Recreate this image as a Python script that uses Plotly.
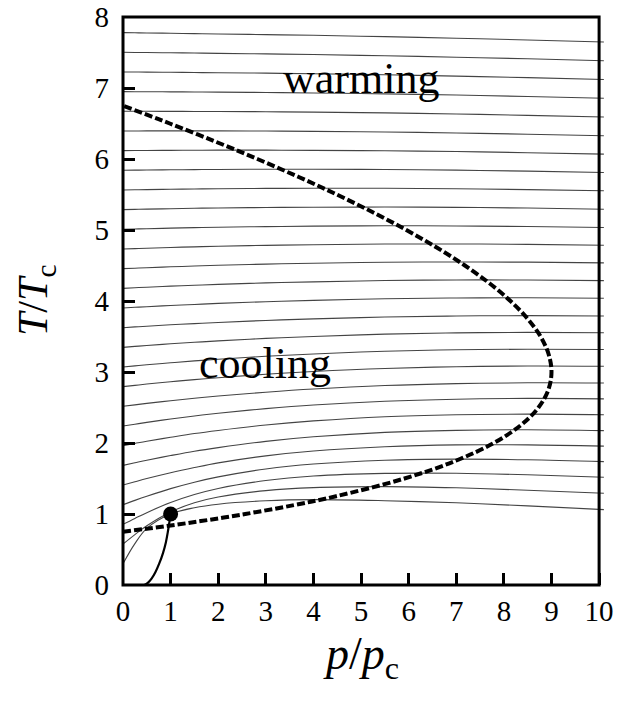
import plotly.graph_objects as go

# ---------------------------------------------------------
# data
# ---------------------------------------------------------
# p/pc positions shared by every isenthalp
p_grid = [0, 0.25, 0.5, 1, 1.5, 2, 3, 4, 5.5, 7, 8.5, 10.1]

# isenthalps T/Tc at p_grid, bottom line first
isenthalp_T = [
    [0.300, 0.583, 0.798, 1.000, 1.088, 1.138, 1.186, 1.202, 1.187, 1.158, 1.114, 1.062],
    [0.577, 0.710, 0.835, 1.029, 1.158, 1.239, 1.329, 1.372, 1.386, 1.369, 1.335, 1.292],
    [0.854, 0.938, 1.019, 1.161, 1.274, 1.360, 1.471, 1.535, 1.572, 1.573, 1.552, 1.517],
    [1.131, 1.192, 1.250, 1.357, 1.448, 1.523, 1.635, 1.705, 1.758, 1.773, 1.764, 1.738],
    [1.408, 1.454, 1.499, 1.581, 1.654, 1.720, 1.819, 1.887, 1.947, 1.974, 1.973, 1.956],
    [1.685, 1.722, 1.758, 1.823, 1.884, 1.935, 2.023, 2.087, 2.150, 2.178, 2.187, 2.175],
    [1.962, 1.994, 2.025, 2.080, 2.133, 2.177, 2.254, 2.311, 2.370, 2.397, 2.407, 2.398],
    [2.240, 2.265, 2.291, 2.338, 2.381, 2.419, 2.484, 2.536, 2.589, 2.617, 2.628, 2.622],
    [2.517, 2.537, 2.558, 2.595, 2.630, 2.661, 2.715, 2.760, 2.809, 2.836, 2.848, 2.845],
    [2.794, 2.812, 2.830, 2.863, 2.893, 2.920, 2.968, 3.007, 3.050, 3.074, 3.085, 3.081],
    [3.071, 3.086, 3.102, 3.130, 3.156, 3.180, 3.221, 3.254, 3.292, 3.313, 3.321, 3.317],
    [3.347, 3.361, 3.373, 3.398, 3.418, 3.439, 3.473, 3.501, 3.533, 3.551, 3.558, 3.553],
    [3.624, 3.635, 3.645, 3.665, 3.681, 3.698, 3.726, 3.748, 3.774, 3.789, 3.794, 3.789],
    [3.901, 3.911, 3.920, 3.937, 3.951, 3.966, 3.990, 4.009, 4.031, 4.043, 4.045, 4.038],
    [4.178, 4.187, 4.194, 4.209, 4.222, 4.234, 4.255, 4.270, 4.288, 4.296, 4.296, 4.287],
    [4.456, 4.462, 4.469, 4.482, 4.492, 4.503, 4.519, 4.532, 4.545, 4.550, 4.547, 4.537],
    [4.733, 4.738, 4.743, 4.754, 4.763, 4.771, 4.784, 4.793, 4.802, 4.803, 4.798, 4.786],
    [5.010, 5.014, 5.018, 5.026, 5.033, 5.039, 5.048, 5.054, 5.059, 5.057, 5.049, 5.035],
    [5.287, 5.290, 5.294, 5.300, 5.306, 5.310, 5.317, 5.321, 5.323, 5.319, 5.309, 5.293],
    [5.564, 5.566, 5.569, 5.574, 5.578, 5.582, 5.586, 5.588, 5.587, 5.581, 5.569, 5.552],
    [5.841, 5.843, 5.845, 5.848, 5.851, 5.853, 5.856, 5.855, 5.852, 5.843, 5.829, 5.810],
    [6.118, 6.119, 6.120, 6.122, 6.123, 6.125, 6.125, 6.122, 6.116, 6.105, 6.089, 6.069],
    [6.395, 6.395, 6.396, 6.396, 6.396, 6.396, 6.394, 6.389, 6.380, 6.367, 6.349, 6.327],
    [6.672, 6.672, 6.672, 6.671, 6.670, 6.669, 6.666, 6.660, 6.649, 6.634, 6.615, 6.591],
    [6.949, 6.948, 6.948, 6.946, 6.944, 6.942, 6.937, 6.930, 6.917, 6.901, 6.880, 6.855],
    [7.226, 7.225, 7.223, 7.221, 7.218, 7.215, 7.209, 7.201, 7.186, 7.167, 7.146, 7.120],
    [7.503, 7.501, 7.499, 7.496, 7.492, 7.488, 7.480, 7.471, 7.454, 7.434, 7.411, 7.384],
    [7.780, 7.778, 7.775, 7.771, 7.766, 7.761, 7.752, 7.742, 7.723, 7.701, 7.677, 7.648],
]

# inversion curve (dashed)
inversion_T = [0.75, 0.8, 0.85, 0.9, 0.95, 1.0, 1.125, 1.25, 1.5, 1.75, 2.0, 2.25, 2.5, 2.75,
               3.0, 3.25, 3.5, 3.75, 4.0, 4.25, 4.5, 4.75, 5.0, 5.25, 5.5, 5.75, 6.0, 6.25,
               6.5, 6.6, 6.75]
inversion_p = [0.0, 0.581, 1.125, 1.636, 2.117, 2.569, 3.59, 4.476, 5.912, 6.991, 7.788, 8.354,
               8.727, 8.935, 9.0, 8.94, 8.77, 8.498, 8.138, 7.697, 7.181, 6.598, 5.952, 5.247,
               4.489, 3.679, 2.823, 1.923, 0.982, 0.593, 0.0]

# solid curve near the origin
solid_p = [0.45, 0.52, 0.60, 0.68, 0.76, 0.84, 0.90, 0.945, 0.975, 1.0]
solid_T = [0.0, 0.03, 0.09, 0.18, 0.30, 0.45, 0.60, 0.76, 0.89, 1.0]

# critical point
critical_p = [1.0]
critical_T = [1.0]

x_ticks = list(range(0, 11))
y_ticks = list(range(0, 9))

X_MAX = 10.25  # lines run a little past the right frame
FONT = '"Liberation Serif", "DejaVu Serif", "Noto Serif", "Times New Roman", serif'

# ---------------------------------------------------------
# traces
# ---------------------------------------------------------
fig = go.Figure()

for row in isenthalp_T:
    fig.add_trace(go.Scatter(
        x=p_grid, y=row, mode='lines',
        line=dict(color='#444444', width=1.1, shape='spline', smoothing=1.0),
        hoverinfo='skip'
    ))

fig.add_trace(go.Scatter(
    x=solid_p, y=solid_T, mode='lines',
    line=dict(color='black', width=2.2, shape='spline'),
    hoverinfo='skip'
))

fig.add_trace(go.Scatter(
    x=inversion_p, y=inversion_T, mode='lines',
    line=dict(color='black', width=4, dash='8px,3px', shape='spline'),
    hoverinfo='skip'
))

fig.add_trace(go.Scatter(
    x=critical_p, y=critical_T, mode='markers',
    marker=dict(color='black', size=15),
    hoverinfo='skip'
))

# ---------------------------------------------------------
# layout (page body margin removed in post_script below)
# ---------------------------------------------------------
fig.update_layout(
    width=628, height=702,
    margin=dict(l=123, r=17, t=17, b=117, autoexpand=False),
    plot_bgcolor='white', paper_bgcolor='white',
    showlegend=False,
    font=dict(family=FONT, color='black'),
)

axis_style = dict(
    ticks='inside', ticklen=12, tickwidth=2.5, tickcolor='black',
    showgrid=False, zeroline=False, showline=False,
    automargin=False, ticklabeloverflow='allow',
    tickfont=dict(family=FONT, size=29, color='black'),
)
fig.update_xaxes(range=[0, X_MAX], tickvals=x_ticks, ticklabelstandoff=6, **axis_style)
fig.update_yaxes(range=[0, 8], tickvals=y_ticks, ticklabelstandoff=13, **axis_style)

# frame drawn by hand so the isenthalps may poke out on the right
fig.add_shape(type='rect', xref='paper', yref='paper',
              x0=0, x1=10 / X_MAX, y0=0, y1=1,
              line=dict(color='black', width=3), layer='above')

fig.add_annotation(x=5, y=0, xref='x', yref='paper', yshift=-72,
                   text='<i>p</i>/<i>p</i><sub>c</sub>', showarrow=False,
                   font=dict(family=FONT, size=46), yanchor='middle')
fig.add_annotation(x=0, y=0.5, xref='paper', yref='paper', xshift=-87,
                   text='<i>T</i>/<i>T</i><sub>c</sub>', showarrow=False, textangle=-90,
                   font=dict(family=FONT, size=42), xanchor='center')
fig.add_annotation(x=5.0, y=7.13, text='warming', showarrow=False,
                   font=dict(family=FONT, size=44))
fig.add_annotation(x=2.98, y=3.12, text='cooling', showarrow=False,
                   font=dict(family=FONT, size=44))

fig.write_html("out.html", config={'displayModeBar': False},
               post_script="document.body.style.margin = '0';")
